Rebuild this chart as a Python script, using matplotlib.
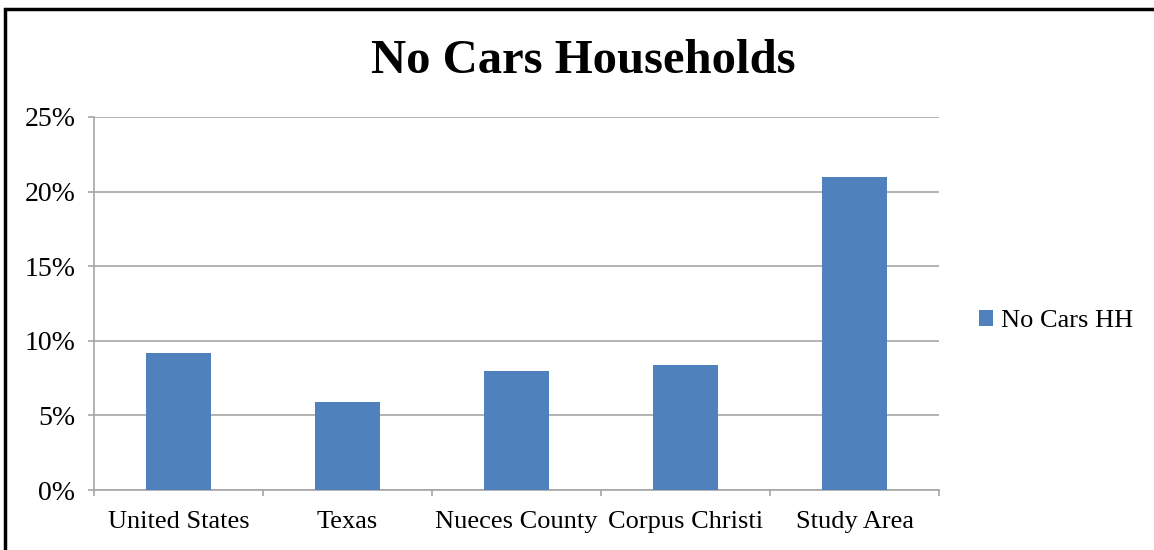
import matplotlib.pyplot as plt
from matplotlib.patches import Rectangle
from matplotlib.ticker import FixedLocator, PercentFormatter

plt.rcParams['font.family'] = ['Liberation Serif', 'DejaVu Serif']

areas = ['United States', 'Texas', 'Nueces County', 'Corpus Christi', 'Study Area']
no_cars = [9.2, 5.9, 8.0, 8.4, 21.0]
series_name = 'No Cars HH'
bar_color = '#4f81bd'
grid_color = '#a6a6a6'

fig = plt.figure(figsize=(11.54, 5.5), dpi=100)
ax = fig.add_axes([94 / 1154, 1 - 490 / 550, 845 / 1154, 373 / 550])

x = list(range(len(areas)))
ax.bar(x, no_cars, width=0.39, color=bar_color, label=series_name, zorder=3)

ax.set_xlim(-0.5, len(areas) - 0.5)
ax.set_ylim(0, 25)
ax.set_yticks([0, 5, 10, 15, 20, 25])
ax.yaxis.set_major_formatter(PercentFormatter(decimals=0))
ax.set_xticks(x)
ax.set_xticklabels(areas)
ax.xaxis.set_minor_locator(FixedLocator([i - 0.5 for i in range(len(areas) + 1)]))

ax.grid(axis='y', color=grid_color, linewidth=1.2, zorder=0)
for side in ['top', 'right']:
    ax.spines[side].set_visible(False)
for side in ['left', 'bottom']:
    ax.spines[side].set_color(grid_color)
    ax.spines[side].set_linewidth(1.2)

ax.tick_params(axis='x', which='major', length=0, labelsize=19, pad=15)
ax.tick_params(axis='x', which='minor', length=4.5, color=grid_color, width=1.2)
ax.tick_params(axis='y', length=4.5, color=grid_color, width=1.2, labelsize=20, pad=9)

fig.text(583 / 1154, 1 - 61 / 550, 'No Cars Households', ha='center', va='center',
         fontsize=35, fontweight='bold')

ax.legend(loc='center left', bbox_to_anchor=(955 / 1154, 1 - 321 / 550),
          bbox_transform=fig.transFigure, frameon=False, fontsize=19,
          handlelength=0.55, handleheight=0.55, handletextpad=0.3)

fig.patches.append(Rectangle((5 / 1154, -0.1), 1.2, 1 - 9 / 550 + 0.1,
                             transform=fig.transFigure, fill=False,
                             edgecolor='black', linewidth=2.5))

fig.savefig('out.png', dpi=100)
